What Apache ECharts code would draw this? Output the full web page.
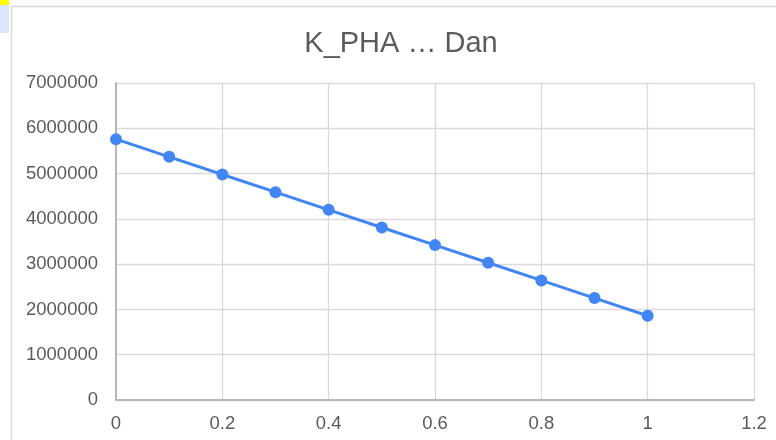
<!DOCTYPE html>
<html>
<head>
<meta charset="utf-8">
<script src="https://cdn.jsdelivr.net/npm/echarts@6/dist/echarts.min.js"></script>
<style>html,body{margin:0;padding:0;background:#fff;}#c{width:776px;height:440px;}</style>
</head>
<body>
<div id="c"></div>
<script>
var titleText = 'K_PHA \u2026 Dan';
var xValues = [0, 0.1, 0.2, 0.3, 0.4, 0.5, 0.6, 0.7, 0.8, 0.9, 1.0];
var yValues = [5760000, 5370000, 4980000, 4590000, 4200000, 3810000, 3420000, 3030000, 2640000, 2250000, 1860000];
var xAxisRange = [0, 1.2, 0.2];
var yAxisRange = [0, 7000000, 1000000];

var chart = echarts.init(document.getElementById('c'), null, {renderer: 'canvas'});
var font = '"Liberation Sans", Arial, sans-serif';
var seriesData = xValues.map(function (x, i) { return [x, yValues[i]]; });
chart.setOption({
  animation: false,
  backgroundColor: '#ffffff',
  graphic: [
    {type: 'rect', shape: {x: 11.5, y: 6.5, width: 800, height: 500}, style: {fill: 'none', stroke: '#d9d9d9', lineWidth: 1.5}, z: -10},
    {type: 'rect', shape: {x: 0, y: 0, width: 9, height: 5}, style: {fill: '#ffff00'}},
    {type: 'rect', shape: {x: 0, y: 5, width: 9, height: 28}, style: {fill: '#dbe6fb'}}
  ],
  title: {
    text: titleText,
    left: 396,
    textAlign: 'center',
    top: 24,
    textStyle: {fontFamily: font, fontSize: 29, fontWeight: 'normal', color: '#5b5b5b'}
  },
  grid: {left: 116, right: 22, top: 83, bottom: 40, containLabel: false},
  xAxis: {
    type: 'value',
    min: xAxisRange[0], max: xAxisRange[1], interval: xAxisRange[2],
    axisLine: {show: true, lineStyle: {color: '#b7b7b7', width: 2}},
    axisTick: {show: false},
    splitLine: {show: true, lineStyle: {color: '#d9d9d9', width: 1.3}},
    axisLabel: {fontFamily: font, fontSize: 18.5, color: '#5b5b5b', margin: 14}
  },
  yAxis: {
    type: 'value',
    min: yAxisRange[0], max: yAxisRange[1], interval: yAxisRange[2],
    axisLine: {show: true, lineStyle: {color: '#b7b7b7', width: 2}},
    axisTick: {show: false},
    splitLine: {show: true, lineStyle: {color: '#d9d9d9', width: 1.3}},
    axisLabel: {fontFamily: font, fontSize: 18.5, color: '#5b5b5b', margin: 18, formatter: function (v) { return String(v); }}
  },
  series: [{
    type: 'line',
    data: seriesData,
    symbol: 'circle',
    symbolSize: 12,
    lineStyle: {color: '#4285f4', width: 3},
    itemStyle: {color: '#4285f4'}
  }]
});
</script>
</body>
</html>
